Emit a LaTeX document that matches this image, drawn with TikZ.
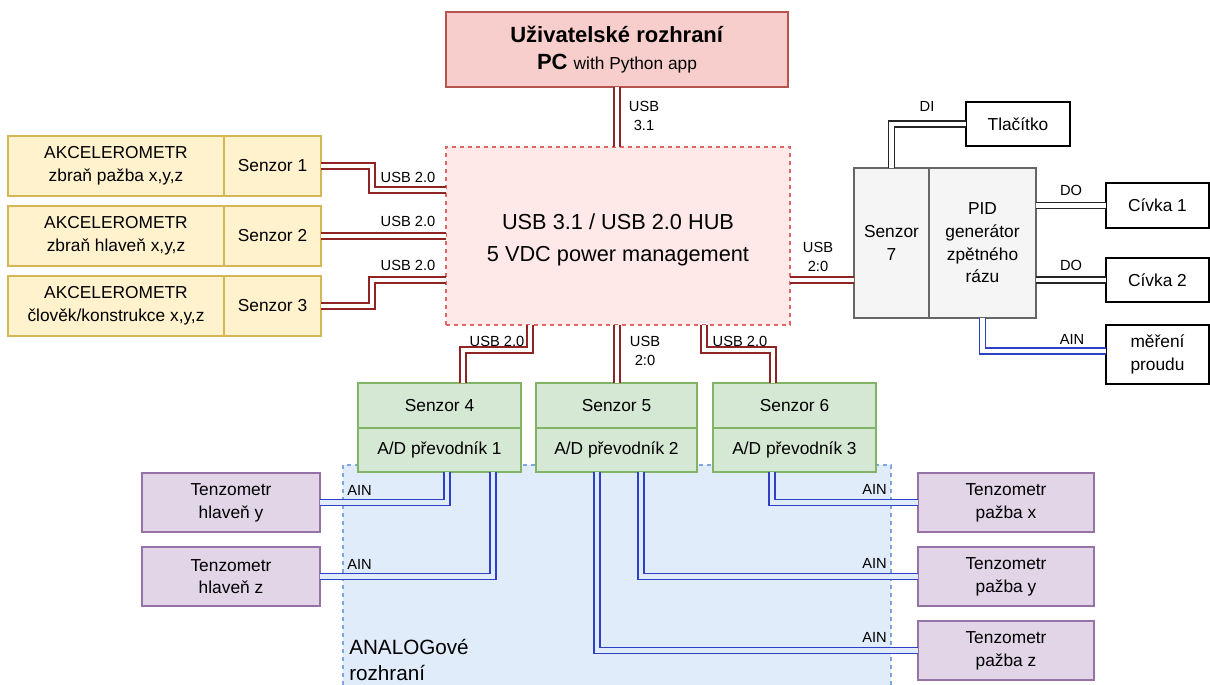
\documentclass[tikz,border=0pt]{standalone}
\usepackage{fontspec}
\setmainfont{Liberation Sans}

\definecolor{uifill}{HTML}{F8CECC}
\definecolor{uiline}{HTML}{B85450}
\definecolor{hubfill}{HTML}{FFE8E8}
\definecolor{hubline}{HTML}{E06666}
\definecolor{accfill}{HTML}{FFF2CC}
\definecolor{accline}{HTML}{D6B656}
\definecolor{senfill}{HTML}{D5E8D4}
\definecolor{senline}{HTML}{82B366}
\definecolor{tzfill}{HTML}{E1D5E7}
\definecolor{tzline}{HTML}{9673A6}
\definecolor{pidfill}{HTML}{F5F5F5}
\definecolor{pidline}{HTML}{666666}
\definecolor{anfill}{HTML}{E1ECFB}
\definecolor{anline}{HTML}{7EA6E0}
\definecolor{usbred}{HTML}{8E2424}
\definecolor{ainblue}{HTML}{2F40C8}

\begin{document}
\begin{tikzpicture}[x=0.75pt,y=-0.75pt,
  wh/.style 2 args={minimum width=#1*0.75pt,minimum height=#2*0.75pt},
  blk/.style={rectangle,inner sep=0pt,outer sep=0pt,align=center,font=\fontsize{13}{17}\selectfont},
  acc/.style={blk,fill=accfill,draw=accline,line width=0.9pt},
  sen/.style={blk,fill=senfill,draw=senline,line width=0.9pt},
  tz/.style={blk,fill=tzfill,draw=tzline,line width=0.9pt},
  pid/.style={blk,fill=pidfill,draw=pidline,line width=0.9pt},
  io/.style={blk,fill=white,draw=black,line width=0.9pt},
  usb/.style={draw=usbred,line width=1.1pt,double=white,double distance=3.2pt},
  dig/.style={draw=black!85,line width=1.1pt,double=white,double distance=3.2pt},
  ain/.style={draw=ainblue,line width=1.1pt,double=anfill,double distance=3.2pt},
  lbl/.style={inner sep=0pt,align=center,font=\fontsize{11}{14}\selectfont}
]

\useasboundingbox (0,0) rectangle (1210,685);

% analog interface region
\fill[anfill] (343,465) rectangle (891,685);
\draw[anline,dashed,line width=0.9pt] (343,685) -- (343,465) -- (891,465) -- (891,685);
\node[inner sep=0pt,anchor=west,align=left,font=\fontsize{15.5}{19.5}\selectfont] (an) at (349,660) {ANALOGové\\rozhraní};

% user interface node
\node[blk,fill=uifill,draw=uiline,line width=0.9pt,wh={342}{75},font=\fontsize{16.5}{20}\selectfont] (ui) at (617,49.5)
  {\textbf{Uživatelské rozhraní}\\\textbf{PC} {\fontsize{13}{20}\selectfont with Python app}};

% hub node
\node[blk,fill=hubfill,draw=hubline,dashed,line width=0.9pt,wh={344}{178}] (hub) at (618,236) {};
\node[inner sep=0pt,align=center,font=\fontsize{16.3}{23.5}\selectfont] (hubtxt) at (618,240)
  {USB 3.1 / USB 2.0 HUB\\5 VDC power management};

% accelerometer nodes
\node[acc,wh={216}{60}] (acc1) at (116,166) {AKCELEROMETR\\zbraň pažba x,y,z};
\node[acc,wh={97}{60}] (sen1) at (272.5,166) {Senzor 1};
\node[acc,wh={216}{60}] (acc2) at (116,236) {AKCELEROMETR\\zbraň hlaveň x,y,z};
\node[acc,wh={97}{60}] (sen2) at (272.5,236) {Senzor 2};
\node[acc,wh={216}{60}] (acc3) at (116,306) {AKCELEROMETR\\člověk/konstrukce x,y,z};
\node[acc,wh={97}{60}] (sen3) at (272.5,306) {Senzor 3};

% sensor 7 and PID node
\node[pid,wh={75}{150}] (sen7) at (891.5,243) {Senzor\\7};
\node[pid,wh={107}{150}] (pid) at (982.5,243) {PID\\generátor\\zpětného\\rázu};

% button, coils, current measurement
\node[io,wh={104}{44}] (tla) at (1018,124) {Tlačítko};
\node[io,wh={103}{45}] (civ1) at (1157.5,205.5) {Cívka 1};
\node[io,wh={103}{44}] (civ2) at (1157.5,280) {Cívka 2};
\node[io,wh={103}{59}] (mer) at (1157.5,354.5) {měření\\proudu};

% A/D sensor nodes
\node[sen,wh={163}{45}] (sen4) at (439.5,405.5) {Senzor 4};
\node[sen,wh={163}{44}] (ad1) at (439.5,450) {A/D převodník 1};
\node[sen,wh={161}{45}] (sen5) at (616.5,405.5) {Senzor 5};
\node[sen,wh={161}{44}] (ad2) at (616.5,450) {A/D převodník 2};
\node[sen,wh={163}{45}] (sen6) at (794.5,405.5) {Senzor 6};
\node[sen,wh={163}{44}] (ad3) at (794.5,450) {A/D převodník 3};

% strain gauge nodes
\node[tz,wh={178}{59}] (tzhy) at (231,502.5) {Tenzometr\\hlaveň y};
\node[tz,wh={178}{59}] (tzhz) at (231,576.5) {Tenzometr\\hlaveň z};
\node[tz,wh={176}{59}] (tzpx) at (1006,502.5) {Tenzometr\\pažba x};
\node[tz,wh={176}{59}] (tzpy) at (1006,576.5) {Tenzometr\\pažba y};
\node[tz,wh={176}{59}] (tzpz) at (1006,650.5) {Tenzometr\\pažba z};

% USB links
\draw[usb] (ui.south) -- (ui.south |- hub.north);
\node[lbl] (l31) at (644,116) {USB\\3.1};
\draw[usb] (sen1.east) -- (372,166) |- (hub.west |- 0,190);
\node[lbl] (l1) at (408,177) {USB 2.0};
\draw[usb] (sen2.east) -- (hub.west |- sen2.east);
\node[lbl] (l2) at (408,221) {USB 2.0};
\draw[usb] (sen3.east) -- (372,306) |- (hub.west |- 0,280);
\node[lbl] (l3) at (408,265) {USB 2.0};
\draw[usb] (hub.east |- 0,280) -- (sen7.west |- 0,280);
\node[lbl] (l7) at (818,257) {USB\\2:0};
\draw[usb] (hub.south -| 530,0) |- (463,350) -- (sen4.north -| 463,0);
\node[lbl] (l4) at (497,341) {USB 2.0};
\draw[usb] (hub.south -| 617,0) -- (sen5.north -| 617,0);
\node[lbl] (l5) at (645,351) {USB\\2:0};
\draw[usb] (hub.south -| 704,0) |- (773,350) -- (sen6.north -| 773,0);
\node[lbl] (l6) at (740,341) {USB 2.0};

% digital links
\draw[dig] (tla.west) -| (sen7.north);
\node[lbl] (ldi) at (927,106) {DI};
\draw[dig] (pid.east |- civ1.west) -- (civ1.west);
\node[lbl] (ldo1) at (1071,190) {DO};
\draw[dig] (pid.east |- civ2.west) -- (civ2.west);
\node[lbl] (ldo2) at (1071,265) {DO};

% analog links
\draw[ain,double=white] (pid.south) |- (mer.west |- 0,351);
\node[lbl] (lam) at (1072,339) {AIN};
\draw[ain] (ad1.south -| 447,0) |- (tzhy.east);
\node[lbl,anchor=west] (la1) at (347,490) {AIN};
\draw[ain] (ad1.south -| 493,0) |- (tzhz.east);
\node[lbl,anchor=west] (la2) at (347,564) {AIN};
\draw[ain] (ad3.south -| 772,0) |- (tzpx.west);
\node[lbl,anchor=east] (la3) at (887,489) {AIN};
\draw[ain] (ad2.south -| 641,0) |- (tzpy.west);
\node[lbl,anchor=east] (la4) at (887,563) {AIN};
\draw[ain] (ad2.south -| 597,0) |- (tzpz.west);
\node[lbl,anchor=east] (la5) at (887,637) {AIN};

\end{tikzpicture}
\end{document}
